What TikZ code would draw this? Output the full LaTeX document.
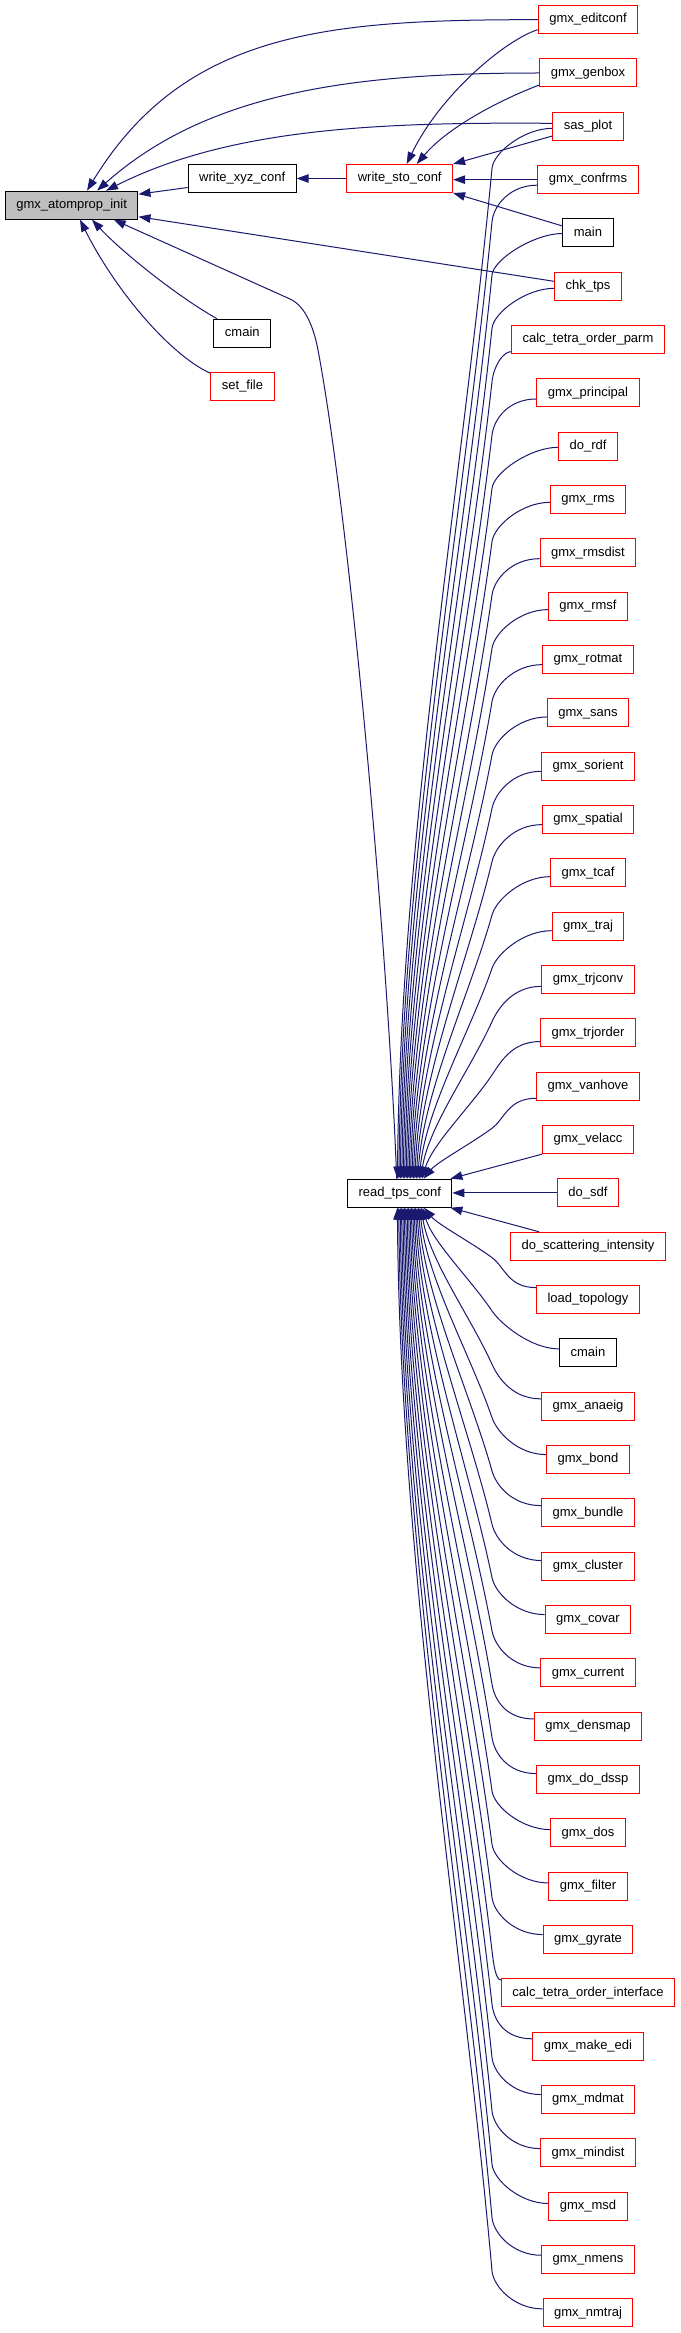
\documentclass[tikz,border=0pt]{standalone}
\usepackage{fontspec}
\setmainfont{Liberation Sans}
\usetikzlibrary{arrows.meta,calc}
\definecolor{edgec}{RGB}{25,25,112}
\definecolor{fillg}{RGB}{191,191,191}
\begin{document}
\begin{tikzpicture}[x=1pt,y=-1pt,
  fn/.style={rectangle, draw, line width=1pt, minimum height=28pt, inner xsep=11pt, inner ysep=0pt,
    text height=9.4pt, text depth=2.8pt, font=\fontsize{13}{15}\selectfont, fill=white},
  fr/.style={fn, draw=red},
  fb/.style={fn, draw=black},
  edge/.style={draw=edgec, line width=1pt, -{Triangle[length=12pt,width=8.5pt]}}]
\fill[white] (0,0) rectangle (680,2333);
\useasboundingbox (0,0) rectangle (680,2333);

% left nodes
\node[fb, fill=fillg] (atom) at (71.7,205.2) {gmx\_atomprop\_init};
\node[fb] (wxyz) at (242.2,178.5) {write\_xyz\_conf};
\node[fr] (wsto) at (399.7,178.5) {write\_sto\_conf};
\node[fb] (cmainL) at (242.3,333.2) {cmain};
\node[fr] (setfile) at (242.5,386.3) {set\_file};
\node[fb] (rtps) at (399.7,1193.2) {read\_tps\_conf};

% right column
\foreach \i/\t/\s in {1/gmx\_editconf/fr, 2/gmx\_genbox/fr, 3/sas\_plot/fr, 4/gmx\_confrms/fr,
  5/main/fb, 6/chk\_tps/fr, 7/calc\_tetra\_order\_parm/fr, 8/gmx\_principal/fr, 9/do\_rdf/fr,
  10/gmx\_rms/fr, 11/gmx\_rmsdist/fr, 12/gmx\_rmsf/fr, 13/gmx\_rotmat/fr, 14/gmx\_sans/fr,
  15/gmx\_sorient/fr, 16/gmx\_spatial/fr, 17/gmx\_tcaf/fr, 18/gmx\_traj/fr, 19/gmx\_trjconv/fr,
  20/gmx\_trjorder/fr, 21/gmx\_vanhove/fr, 22/gmx\_velacc/fr, 23/do\_sdf/fr,
  24/do\_scattering\_intensity/fr, 25/load\_topology/fr, 26/cmain/fb, 27/gmx\_anaeig/fr,
  28/gmx\_bond/fr, 29/gmx\_bundle/fr, 30/gmx\_cluster/fr, 31/gmx\_covar/fr, 32/gmx\_current/fr,
  33/gmx\_densmap/fr, 34/gmx\_do\_dssp/fr, 35/gmx\_dos/fr, 36/gmx\_filter/fr, 37/gmx\_gyrate/fr,
  38/calc\_tetra\_order\_interface/fr, 39/gmx\_make\_edi/fr, 40/gmx\_mdmat/fr, 41/gmx\_mindist/fr,
  42/gmx\_msd/fr, 43/gmx\_nmens/fr, 44/gmx\_nmtraj/fr}
  \node[\s] (r\i) at (588,{19.67+53.33*(\i-1)}) {\t};

% edges into gmx_atomprop_init
\draw[edge] (r1.west) .. controls (330,19.7) and (185,30) .. ($(atom.north)+(15.3,0)$);
\draw[edge] (r2.west) .. controls (360,73) and (210,90) .. ($(atom.north)+(25.3,0)$);
\draw[edge] ($(r3.west)+(0,-3)$) .. controls (380,122) and (230,128) .. ($(atom.north)+(34.3,0)$);
\draw[edge] ($(wxyz.west)+(0,9)$) -- ($(atom.east)+(0,-11)$);
\draw[edge] ($(r6.west)+(0,-5)$) -- ($(atom.east)+(0,11.5)$);
\draw[edge] ($(cmainL.north west)+(3.5,0)$) .. controls (175,295) and (120,250) .. ($(atom.south)+(20.3,0)$);
\draw[edge] ($(setfile.north west)+(0,1.5)$) .. controls (170,355) and (115,290) .. ($(atom.south)+(8.3,0)$);
\draw[edge] ($(rtps.north)+(-3,0)$) .. controls (388,950) and (350,520) .. (318,350)
   .. controls (314.3,330.3) and (306.4,306.4) .. (290,299) -- ($(atom.south)+(42,0)$);

% edges into write_xyz_conf / write_sto_conf
\draw[edge] (wsto.west) -- (wxyz.east);
\draw[edge] ($(r1.west)+(0,10)$) .. controls (505,40) and (440,95) .. ($(wsto.north)+(7,0)$);
\draw[edge] ($(r2.west)+(0,12)$) .. controls (505,98) and (450,125) .. ($(wsto.north)+(17,0)$);
\draw[edge] ($(r3.west)+(0,9.7)$) -- (wsto.north east);
\draw[edge] (r4.west) -- (r4.west -| wsto.east);
\draw[edge] ($(r5.west)+(0,-7)$) -- (wsto.south east);

% straight edges into read_tps_conf
\draw[edge] (r22.south west) -- ($(rtps.north east)+(-2,0)$);
\draw[edge] (r23.west) -- (r23.west -| rtps.east);
\draw[edge] ($(r24.north west)+(29,0)$) -- ($(rtps.south east)+(-2,0)$);

% curved edges from above
\foreach \i/\so/\ax in {3/2/28, 4/5.5/28, 5/0.5/28, 6/2/28, 7/12/8, 8/6/28, 9/1/28, 10/2.7/28,
  11/5.7/28, 12/3.3/28, 13/5/28, 14/4/28, 15/5/28, 16/5/28, 17/3.7/28, 18/4.4/28, 19/6.7/28,
  20/8.6/28, 21/12/28}{
  \pgfmathsetmacro\yz{19.67+53.33*(\i-1)}
  \pgfmathsetmacro\ya{\yz+42}
  \pgfmathsetmacro\tx{397.5+(\i-3)*1.45}
  \pgfmathsetmacro\spn{1179.2-\ya}
  \pgfmathsetmacro\cf{0.33*80/(80+\spn)}
  \coordinate (S) at ($(r\i.west)+(0,\so)$);
  \coordinate (T) at ($(rtps.north)+({\tx-399.7},0)$);
  \coordinate (A) at (492,\ya);
  \draw[edge] (S) .. controls +(-\ax,0) and ($(A)!-16pt!(T)$) .. (A)
     .. controls ($(A)!0.3!(T)$) and ($(T)+({\cf*(492-\tx)},{-0.33*\spn})$) .. (T);
}

% curved edges from below
\foreach \i/\so/\ax in {25/12/28, 26/4/28, 27/7.4/28, 28/5/28, 29/7.3/28, 30/5.7/28, 31/5/28,
  32/5/28, 33/7.3/28, 34/6/28, 35/3.3/28, 36/3.3/28, 37/5/28, 38/13/5, 39/7.4/28, 40/5/28,
  41/4.3/28, 42/2.7/28, 43/4.3/28, 44/4/28}{
  \pgfmathsetmacro\yz{19.67+53.33*(\i-1)}
  \pgfmathsetmacro\ya{\yz-42}
  \pgfmathsetmacro\tx{424-(\i-25)*1.4}
  \pgfmathsetmacro\spn{\ya-1207.2}
  \pgfmathsetmacro\cf{0.33*80/(80+\spn)}
  \coordinate (S) at ($(r\i.west)+(0,-\so)$);
  \coordinate (T) at ($(rtps.south)+({\tx-399.7},0)$);
  \coordinate (A) at (492,\ya);
  \draw[edge] (S) .. controls +(-\ax,0) and ($(A)!-16pt!(T)$) .. (A)
     .. controls ($(A)!0.3!(T)$) and ($(T)+({\cf*(492-\tx)},{0.33*\spn})$) .. (T);
}
\end{tikzpicture}
\end{document}
